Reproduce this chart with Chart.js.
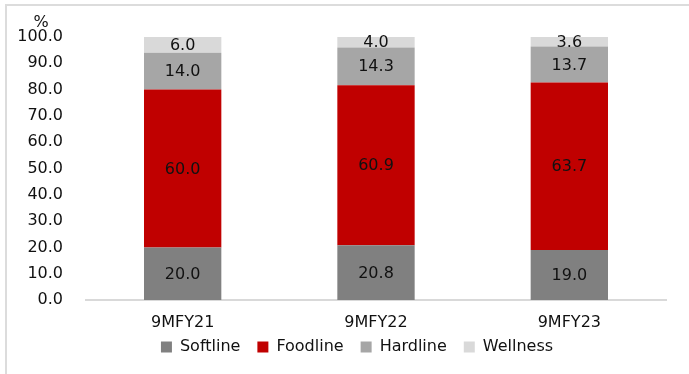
<!DOCTYPE html>
<html>
<head>
<meta charset="utf-8">
<script src="https://cdn.jsdelivr.net/npm/chart.js@4"></script>
<style>
body{margin:0;background:#fff;}
#frame{position:absolute;left:5px;top:4px;width:700px;height:400px;border-top:2px solid #dcdcdc;border-left:2px solid #dcdcdc;}
#wrap{position:absolute;left:0;top:0;width:689px;height:374px;}
</style>
</head>
<body>
<div id="frame"></div>
<div id="wrap"><canvas id="mainChart"></canvas></div>
<script>

/* DATA */

const periods = ["9MFY21","9MFY22","9MFY23"];

const softline = [20.0,20.8,19.0];
const foodline = [60.0,60.9,63.7];
const hardline = [14.0,14.3,13.7];
const wellness = [6.0,4.0,3.6];

const FONT = "'DejaVu Sans', sans-serif";

/* VALUE LABELS IN BARS */

const barLabels = {

id:"barLabels",

afterLayout(chart){

// legend sits right of centre and close under the axis labels in the original
chart.legend.left += 24;
chart.legend.right += 24;
chart.legend.top -= 12;
chart.legend.bottom -= 12;

},

afterDatasetsDraw(chart){

const c = chart.ctx;

c.save();
c.font = "16px " + FONT;
c.fillStyle = "#111";
c.textAlign = "center";
c.textBaseline = "middle";

chart.data.datasets.forEach((ds,i)=>{

chart.getDatasetMeta(i).data.forEach((bar,j)=>{

c.fillText(ds.data[j].toFixed(1), bar.x, (bar.y + bar.base)/2 + 1);

});

});

/* % unit */

c.fillText("%", chart.scales.y.right - 45, chart.chartArea.top - 14);

c.restore();

}

};

/* CHART SETUP */

const ctx =
document.getElementById("mainChart");

new Chart(ctx, {

type:"bar",

data:{

labels:periods,

datasets:[

{ label:"Softline", data:softline, backgroundColor:"#808080" },
{ label:"Foodline", data:foodline, backgroundColor:"#c00000" },
{ label:"Hardline", data:hardline, backgroundColor:"#a6a6a6" },
{ label:"Wellness", data:wellness, backgroundColor:"#d9d9d9" }

]

},

options:{

responsive:true,
maintainAspectRatio:false,
animation:false,

layout:{

padding:{ left:0, right:23, top:37, bottom:0 }

},

datasets:{

bar:{ categoryPercentage:1, barPercentage:0.4 }

},

plugins:{

tooltip:{ enabled:false },

legend:{

position:"bottom",
maxHeight:40,

labels:{

color:"#111",
boxWidth:11,
boxHeight:11,
padding:17,
font:{ family:FONT, size:16 }

}

}

},

scales:{

x:{

stacked:true,

afterFit(scale){ scale.height = 34; },

grid:{ display:false },

border:{ display:true, color:"#d9d9d9", width:2 },

ticks:{ color:"#111", padding:5, font:{ family:FONT, size:16 } }

},

y:{

stacked:true,

min:0,
max:100,

afterFit(scale){ scale.width = 86; },

grid:{ display:false, drawTicks:false },

border:{ display:false },

ticks:{

stepSize:10,
color:"#111",
padding:23,
font:{ family:FONT, size:16 },
callback:(v)=>v.toFixed(1)

}

}

}

},

plugins:[barLabels]

});

</script>
</body>
</html>
